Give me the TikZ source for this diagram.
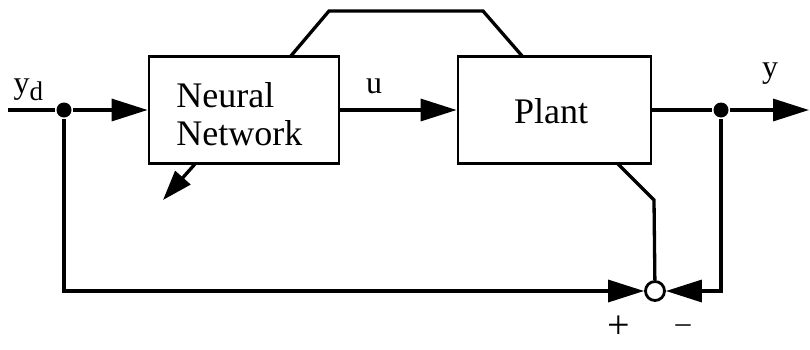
\documentclass[tikz,border=0pt]{standalone}
\usepackage{fontspec}
\setmainfont{Liberation Serif}
\usetikzlibrary{arrows.meta}
\begin{document}
\begin{tikzpicture}[x=1pt,y=-1pt,
  line width=3.3pt,
  block/.style={draw, line width=2.8pt, fill=white, inner sep=0pt,
    minimum height=107pt, font=\fontsize{36}{38}\selectfont},
  sig/.style={-{Triangle[length=36pt,width=22pt]}},
  adapt/.style={-{Triangle[length=30pt,width=20pt]}},
  dot/.style={circle, fill=black, inner sep=0pt, minimum size=15pt},
  sumnode/.style={circle, draw, fill=white, inner sep=0pt, minimum size=19pt, line width=2.8pt},
  lbl/.style={font=\fontsize{32}{34}\selectfont, inner sep=0pt}]
\useasboundingbox (0,0) rectangle (810,349);

% blocks
\node[block, minimum width=190pt] (nn) at (244,110) {};
\node[block, minimum width=193pt] (plant) at (554.5,110) {};
\node[block, draw=none, fill=none, minimum height=0pt, anchor=base west] (nnt1) at (175,107) {Neural};
\node[block, draw=none, fill=none, minimum height=0pt, anchor=base west] (nnt2) at (175,145) {Network};
\node[block, draw=none, fill=none, minimum height=0pt, anchor=base] (plt) at (551,123) {Plant};

% junctions and summing point
\node[dot] (j1) at (64,110) {};
\node[dot] (j2) at (721,110) {};
\node[sumnode] (sum) at (655,291) {};

% free ends and bends
\coordinate (in) at (8,110);
\coordinate (out) at (809,110);
\coordinate (nt) at (290,57);
\coordinate (t1) at (329,11);
\coordinate (t2) at (483,11);
\coordinate (pt) at (523,57);
\coordinate (pb) at (618,164);
\coordinate (pk) at (654,200);
\coordinate (a1) at (195,164);
\coordinate (a2) at (163,200);

% forward path
\draw (in) -- (j1);
\draw[sig] (j1) -- (nn);
\draw[sig] (nn) -- (plant);
\draw (plant) -- (j2);
\draw[sig] (j2) -- (out);

% feedback paths
\draw[sig] (j1) |- (sum);
\draw[sig] (j2) |- (sum);
\draw (pb) -- (pk) -- (sum);

% link between the blocks over the top
\draw[line join=miter] (nt) -- (t1) -- (t2) -- (pt);

% adaptation arrow
\draw[adapt] (a1) -- (a2);

% labels
\node[lbl, anchor=base west] (yd) at (12,93) {y\raisebox{-0.22em}{\fontsize{27}{27}\selectfont d}};
\node[lbl, anchor=base] (ul) at (374,93) {u};
\node[lbl, anchor=base] (yl) at (770,77) {y};
\node[lbl, font=\fontsize{40}{42}\selectfont] (plus) at (619,327) {+};
\node[lbl, font=\fontsize{30}{32}\selectfont] (minus) at (683,329) {–};
\end{tikzpicture}
\end{document}
